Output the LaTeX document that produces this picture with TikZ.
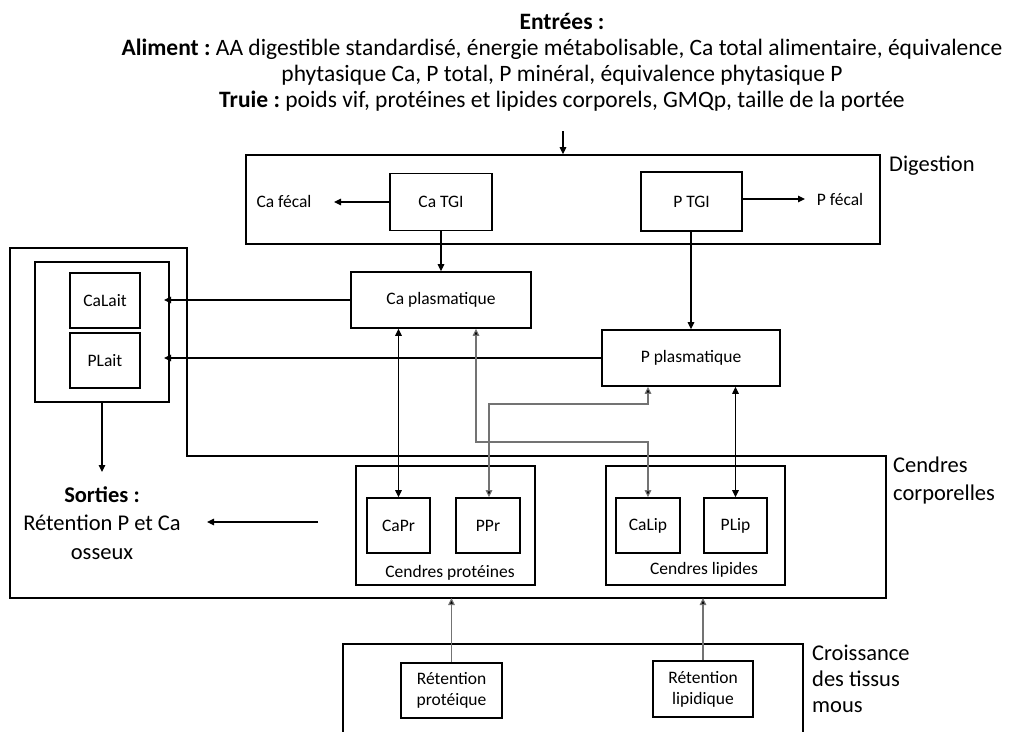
\documentclass[tikz,border=0pt]{standalone}
\usepackage{fontspec}
\setmainfont{Carlito}
\usetikzlibrary{arrows.meta,calc}
\begin{document}
\frenchspacing
\begin{tikzpicture}[x=1pt,y=-1pt,
  box/.style={draw,line width=1.6pt,inner sep=0pt,align=center,font=\fontsize{17.5}{21}\selectfont},
  frame/.style={draw,line width=1.6pt,inner sep=0pt},
  small/.style={inner sep=0pt,align=center,font=\fontsize{17.5}{21}\selectfont},
  big/.style={inner sep=0pt,align=left,anchor=north west,font=\fontsize{22.5}{28}\selectfont},
  conn/.style={line width=1.1pt,-{Triangle[length=7pt,width=6.5pt]}},
  dconn/.style={line width=1.1pt,{Triangle[length=7pt,width=6.5pt]}-{Triangle[length=7pt,width=6.5pt]}},
  gconn/.style={line width=1.1pt,draw=black!55,{Triangle[length=7pt,width=6.5pt,fill=black]}-{Triangle[length=7pt,width=6.5pt,fill=black]}},
  bconn/.style={line width=1.1pt,draw=black!55,-{Triangle[length=7pt,width=6.5pt,fill=black]}}
]
\useasboundingbox (0,0) rectangle (1009,731);

% Title
\node[inner sep=0pt,align=center,font=\fontsize{23.5}{26}\selectfont] (titre) at (562,62)
 {\textbf{Entrées :}\\
  \textbf{Aliment :} AA digestible standardisé, énergie métabolisable, Ca total alimentaire, équivalence\\
  phytasique Ca, P total, P minéral, équivalence phytasique P\\
  \textbf{Truie :} poids vif, protéines et lipides corporels, GMQp, taille de la portée};
\coordinate (tin) at (563,131);

% Digestion
\node[frame,minimum width=634pt,minimum height=89pt] (dig) at (563,199.5) {};
\node[big] (digl) at (889,156) {Digestion};
\node[box,minimum width=102pt,minimum height=57pt] (catgi) at (441,202) {Ca TGI};
\node[box,minimum width=101pt,minimum height=59pt] (ptgi) at (691.5,201.5) {P TGI};
\node[small] (cafec) at (284,201) {Ca fécal};
\node[small] (pfec) at (840,199) {P fécal};
\coordinate (cafe) at (334,202);
\coordinate (pfe) at (805,199);

% plasma
\node[box,minimum width=180pt,minimum height=56pt] (capl) at (441,300) {Ca plasmatique};
\node[box,minimum width=178pt,minimum height=56pt] (ppl) at (691,358) {P plasmatique};

% Cendres corporelles outline
\draw[line width=1.6pt] (10,248) -- (187,248) -- (187,456) -- (886,456) -- (886,598) -- (10,598) -- cycle;
\node[big] (cendl) at (893,457) {Cendres\\corporelles};

% Lait
\node[frame,minimum width=134pt,minimum height=140pt] (lait) at (102,332) {};
\node[box,minimum width=70pt,minimum height=55pt] (calait) at (105,300.5) {CaLait};
\node[box,minimum width=70pt,minimum height=55pt] (plait) at (105,360.5) {PLait};
\coordinate (lt1) at (164,300);
\coordinate (lt2) at (164,358);

% Sorties
\node[inner sep=0pt,align=center,font=\fontsize{22.5}{28.5}\selectfont] (sorties) at (102,523)
 {\textbf{Sorties :}\\Rétention P et Ca\\osseux};
\coordinate (sin) at (102,472);
\coordinate (sa) at (318,522);
\coordinate (sb) at (207,522);

% Cendres proteines / lipides
\node[frame,minimum width=179pt,minimum height=119pt] (cpro) at (445.5,525.5) {};
\node[box,minimum width=63pt,minimum height=55pt] (capr) at (398.5,525.5) {CaPr};
\node[box,minimum width=64pt,minimum height=55pt] (ppr) at (488,525.5) {PPr};
\node[small] (cprol) at (450,573) {Cendres protéines};
\node[frame,minimum width=179pt,minimum height=119pt] (clip) at (695.5,525.5) {};
\node[box,minimum width=64pt,minimum height=55pt] (calip) at (648,525.5) {CaLip};
\node[box,minimum width=63pt,minimum height=55pt] (plip) at (735.5,525.5) {PLip};
\node[small] (clipl) at (704,570) {Cendres lipides};

% Croissance
\draw[line width=1.6pt] (343,735) -- (343,644) -- (803,644) -- (803,735);
\node[big,font=\fontsize{22.5}{26}\selectfont] (croil) at (812,645) {Croissance\\des tissus\\mous};
\node[box,minimum width=101pt,minimum height=55pt] (retp) at (451.5,690.5) {Rétention\\protéique};
\node[box,minimum width=100pt,minimum height=56pt] (retl) at (703,689) {Rétention\\lipidique};
\coordinate (ob1) at (451.5,598);
\coordinate (ob2) at (703,598);

% crossing routes
\coordinate (c2a) at (476,442);
\coordinate (c2b) at (648,442);
\coordinate (c3a) at (648,404);
\coordinate (c3b) at (489,404);

% connectors
\draw[conn] (tin) -- (tin |- dig.north);
\draw[conn] (catgi.west) -- (cafe);
\draw[conn] (ptgi.east |- pfe) -- (pfe);
\draw[conn] (catgi.south) -- (capl.north);
\draw[conn] (ptgi.south -| ppl.north) -- (ppl.north);
\draw[conn] (capl.west) -- (lt1);
\draw[conn] (ppl.west |- lt2) -- (lt2);
\draw[conn] (lait.south) -- (sin);
\draw[conn] (sa) -- (sb);
\draw[dconn] (capl.south -| capr.north) -- (capr.north);
\draw[dconn] (ppl.south -| plip.north) -- (plip.north);
\draw[gconn] (capl.south -| c2a) -- (c2a) -- (c2b) -- (calip.north);
\draw[gconn] (ppl.south -| c3a) -- (c3a) -- (c3b) -- (ppr.north -| c3b);
\draw[bconn] (retp.north) -- (ob1);
\draw[bconn] (retl.north) -- (ob2);
\end{tikzpicture}
\end{document}
